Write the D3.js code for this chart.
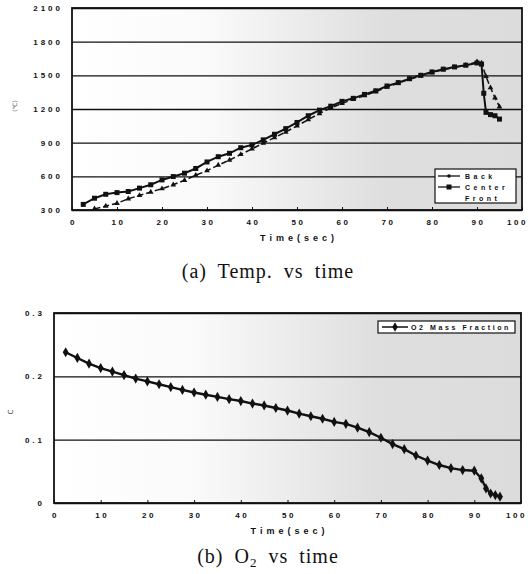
<!DOCTYPE html>
<html lang="en">
<head>
    <meta charset="UTF-8">
    <title>Temp. and O2 vs time</title>
    <script src="https://cdn.jsdelivr.net/npm/d3@7/dist/d3.min.js"></script>
    <style>
        body { margin: 0; background: #fff; }
        .tick text {
            font: bold 8px "Liberation Sans", Arial, sans-serif;
            letter-spacing: 3px;
            fill: #111;
        }
        .axis-title {
            font: bold 9px "Liberation Sans", Arial, sans-serif;
            letter-spacing: 4px;
            fill: #111;
        }
        .legend text {
            font: bold 7px "Liberation Sans", Arial, sans-serif;
            letter-spacing: 3.5px;
            fill: #111;
        }
        .caption {
            font: 20px "Liberation Serif", "Times New Roman", serif;
            letter-spacing: 1px;
            word-spacing: 5px;
            fill: #111;
        }
    </style>
</head>
<body>
    <div id="chart"></div>
    <script>
        // ticks
        const timeTicks = [0, 10, 20, 30, 40, 50, 60, 70, 80, 90, 100];
        const tempTicks = [300, 600, 900, 1200, 1500, 1800, 2100];
        const o2Ticks = [0, 0.1, 0.2, 0.3];

        // (a) temperature series
        const centerTime = [2.5, 5, 7.5, 10, 12.5, 15, 17.5, 20, 22.5, 25, 27.5, 30, 32.5, 35, 37.5, 40, 42.5, 45, 47.5, 50,
            52.5, 55, 57.5, 60, 62.5, 65, 67.5, 70, 72.5, 75, 77.5, 80, 82.5, 85, 87.5, 90, 91, 91.5, 92, 93, 94, 95];
        const centerTemp = [350, 405, 440, 455, 465, 495, 525, 568, 598, 628, 670, 728, 775, 805, 855, 880, 925, 975, 1025, 1080,
            1140, 1190, 1225, 1268, 1295, 1330, 1362, 1405, 1435, 1470, 1500, 1530, 1555, 1575, 1590, 1610, 1600, 1340, 1170, 1150, 1140, 1110];

        const backTime = [5, 7.5, 10, 12.5, 15, 17.5, 20, 22.5, 25, 27.5, 30, 32.5, 35, 37.5, 40, 42.5, 45, 47.5, 50,
            52.5, 55, 57.5, 60, 62.5, 65, 67.5, 70, 72.5, 75, 77.5, 80, 82.5, 85, 87.5, 90, 91, 92, 93, 94, 95];
        const backTemp = [310, 335, 360, 400, 430, 460, 490, 525, 565, 610, 650, 700, 745, 795, 845, 895, 945, 995, 1050,
            1105, 1160, 1210, 1250, 1285, 1320, 1355, 1395, 1430, 1465, 1495, 1525, 1550, 1570, 1590, 1620, 1610, 1490, 1390, 1300, 1220];

        const frontTime = [84, 86, 88, 90, 91];
        const frontTemp = [1575, 1585, 1595, 1610, 1620];

        // (b) O2 mass fraction
        const o2Time = [2.5, 5, 7.5, 10, 12.5, 15, 17.5, 20, 22.5, 25, 27.5, 30, 32.5, 35, 37.5, 40, 42.5, 45, 47.5, 50,
            52.5, 55, 57.5, 60, 62.5, 65, 67.5, 70, 72.5, 75, 77.5, 80, 82.5, 85, 87.5, 90, 91.5, 92.5, 93.5, 94.5, 95.5];
        const o2Frac = [0.238, 0.229, 0.220, 0.213, 0.2075, 0.202, 0.1965, 0.192, 0.1875, 0.183, 0.1785, 0.1745, 0.171, 0.1675, 0.164, 0.161, 0.157, 0.154, 0.150, 0.146,
            0.141, 0.137, 0.133, 0.128, 0.125, 0.119, 0.112, 0.103, 0.093, 0.085, 0.075, 0.067, 0.060, 0.055, 0.052, 0.051, 0.039, 0.023, 0.015, 0.0125, 0.010];

        const svg = d3.select("#chart")
            .append("svg")
            .attr("width", 530)
            .attr("height", 574);

        // stippled grey of the scan, heavier on the right
        const grad = svg.append("defs").append("linearGradient")
            .attr("id", "shade")
            .attr("x1", "0").attr("x2", "1").attr("y1", "0").attr("y2", "0");
        [[0, "#ffffff"], [0.3, "#fafafa"], [0.5, "#ececec"], [0.7, "#dedede"], [1, "#dcdcdc"]]
            .forEach(s => grad.append("stop").attr("offset", s[0]).attr("stop-color", s[1]));

        function panel(box, yDomain, yTicks, yFmt) {
            const x = d3.scaleLinear().domain([0, 100]).range([box.left, box.right]);
            const y = d3.scaleLinear().domain(yDomain).range([box.bottom, box.top]);
            const g = svg.append("g");

            g.append("rect")
                .attr("x", box.left).attr("y", box.top)
                .attr("width", box.right - box.left)
                .attr("height", box.bottom - box.top)
                .attr("fill", "url(#shade)");

            // horizontal grid + y labels
            g.append("g")
                .attr("transform", `translate(${box.left},0)`)
                .call(d3.axisLeft(y).tickValues(yTicks).tickFormat(yFmt)
                    .tickSize(-(box.right - box.left)).tickPadding(box.pad))
                .call(a => a.select(".domain").remove())
                .call(a => a.selectAll(".tick line").attr("stroke", "#111").attr("stroke-width", 1.4));

            // x axis with inward ticks
            g.append("g")
                .attr("transform", `translate(0,${box.bottom})`)
                .call(d3.axisBottom(x).tickValues(timeTicks).tickSize(-3).tickPadding(9))
                .call(a => a.select(".domain").remove())
                .call(a => a.selectAll(".tick line").attr("stroke", "#111"))
                .call(a => a.selectAll(".tick text").style("letter-spacing", "2.5px").attr("dx", "1px"))
                .call(a => a.selectAll(".tick:last-of-type text").attr("dx", "-5px"));

            g.append("rect")
                .attr("x", box.left).attr("y", box.top)
                .attr("width", box.right - box.left)
                .attr("height", box.bottom - box.top)
                .attr("fill", "none")
                .attr("stroke", "#111")
                .attr("stroke-width", 1.8);

            g.append("text")
                .attr("class", "axis-title")
                .attr("x", (box.left + box.right) / 2 + 2)
                .attr("y", box.bottom + 31)
                .attr("text-anchor", "middle")
                .text("Time(sec)");

            return { g, x, y };
        }

        // ---- (a) Temp. vs time ----
        const a = panel({ left: 72, right: 522, top: 8, bottom: 210, pad: 9 },
            [300, 2100], tempTicks, d3.format("d"));

        const lineA = (ts, vs) => d3.line().x((d, i) => a.x(ts[i])).y(d => a.y(d))(vs);

        a.g.append("path")
            .attr("d", lineA(frontTime, frontTemp))
            .attr("fill", "none")
            .attr("stroke", "#bbb")
            .attr("stroke-width", 1.5)
            .attr("stroke-dasharray", "2,2");

        a.g.append("path")
            .attr("d", lineA(backTime, backTemp))
            .attr("fill", "none")
            .attr("stroke", "#111")
            .attr("stroke-width", 1.5)
            .attr("stroke-dasharray", "6,3");

        a.g.append("g")
            .selectAll("path")
            .data(backTemp)
            .enter().append("path")
            .attr("d", d3.symbol(d3.symbolTriangle, 14))
            .attr("transform", (d, i) => `translate(${a.x(backTime[i])},${a.y(d)})`)
            .attr("fill", "#111");

        a.g.append("path")
            .attr("d", lineA(centerTime, centerTemp))
            .attr("fill", "none")
            .attr("stroke", "#111")
            .attr("stroke-width", 2);

        a.g.append("g")
            .selectAll("rect")
            .data(centerTemp)
            .enter().append("rect")
            .attr("x", (d, i) => a.x(centerTime[i]) - 2.5)
            .attr("y", d => a.y(d) - 2.5)
            .attr("width", 5)
            .attr("height", 5)
            .attr("fill", "#111");

        // y title (barely legible in the scan)
        svg.append("text")
            .attr("transform", "translate(17,106) rotate(-90)")
            .attr("text-anchor", "middle")
            .style("font", "6px 'DejaVu Sans', sans-serif")
            .attr("fill", "#555")
            .text("(℃)");

        // legend (a)
        const legA = svg.append("g").attr("class", "legend");
        legA.append("rect")
            .attr("x", 435).attr("y", 169).attr("width", 81).attr("height", 34)
            .attr("fill", "#fff").attr("stroke", "#111").attr("stroke-width", 1.2);
        const legItems = [["Back", "circle", 176], ["Center", "square", 187], ["Front", "none", 198]];
        legItems.forEach(([name, mark, yy]) => {
            if (mark !== "none") {
                legA.append("line")
                    .attr("x1", 438).attr("x2", 460).attr("y1", yy).attr("y2", yy)
                    .attr("stroke", "#111").attr("stroke-width", 1.3);
            }
            if (mark === "circle") {
                legA.append("circle").attr("cx", 449).attr("cy", yy).attr("r", 1.8).attr("fill", "#111");
            } else if (mark === "square") {
                legA.append("rect").attr("x", 446.5).attr("y", yy - 2.5).attr("width", 5).attr("height", 5).attr("fill", "#111");
            }
            legA.append("text").attr("x", 465).attr("y", yy + 2.5).text(name);
        });

        svg.append("text")
            .attr("class", "caption")
            .attr("x", 268).attr("y", 278)
            .attr("text-anchor", "middle")
            .text("(a) Temp. vs time");

        // ---- (b) O2 vs time ----
        const b = panel({ left: 54, right: 521, top: 313, bottom: 503, pad: 9 },
            [0, 0.3], o2Ticks, d3.format(".1~f"));

        b.g.append("path")
            .attr("d", d3.line().x((d, i) => b.x(o2Time[i])).y(d => b.y(d))(o2Frac))
            .attr("fill", "none")
            .attr("stroke", "#111")
            .attr("stroke-width", 2.4);

        b.g.append("g")
            .selectAll("path")
            .data(o2Frac)
            .enter().append("path")
            .attr("d", d3.symbol(d3.symbolDiamond, 30))
            .attr("transform", (d, i) => `translate(${b.x(o2Time[i])},${b.y(d)})`)
            .attr("fill", "#111");

        svg.append("text")
            .attr("transform", "translate(13,412) rotate(-90)")
            .attr("text-anchor", "middle")
            .style("font", "7px 'DejaVu Sans', sans-serif")
            .attr("fill", "#333")
            .text("C");

        // legend (b)
        const legB = svg.append("g").attr("class", "legend");
        legB.append("rect")
            .attr("x", 378).attr("y", 321).attr("width", 137).attr("height", 12)
            .attr("fill", "#fff").attr("stroke", "#111").attr("stroke-width", 1.2);
        legB.append("line")
            .attr("x1", 382).attr("x2", 408).attr("y1", 327).attr("y2", 327)
            .attr("stroke", "#111").attr("stroke-width", 1.5);
        legB.append("path")
            .attr("d", d3.symbol(d3.symbolDiamond, 26))
            .attr("transform", "translate(395,327)")
            .attr("fill", "#111");
        legB.append("text")
            .attr("x", 411).attr("y", 329.5)
            .style("letter-spacing", "2.6px")
            .text("O2 Mass Fraction");

        const capB = svg.append("text")
            .attr("class", "caption")
            .attr("x", 268).attr("y", 563)
            .attr("text-anchor", "middle");
        capB.append("tspan").text("(b) O");
        capB.append("tspan").attr("dy", 4).style("font-size", "13px").text("2");
        capB.append("tspan").attr("dy", -4).text(" vs time");
    </script>
</body>
</html>
